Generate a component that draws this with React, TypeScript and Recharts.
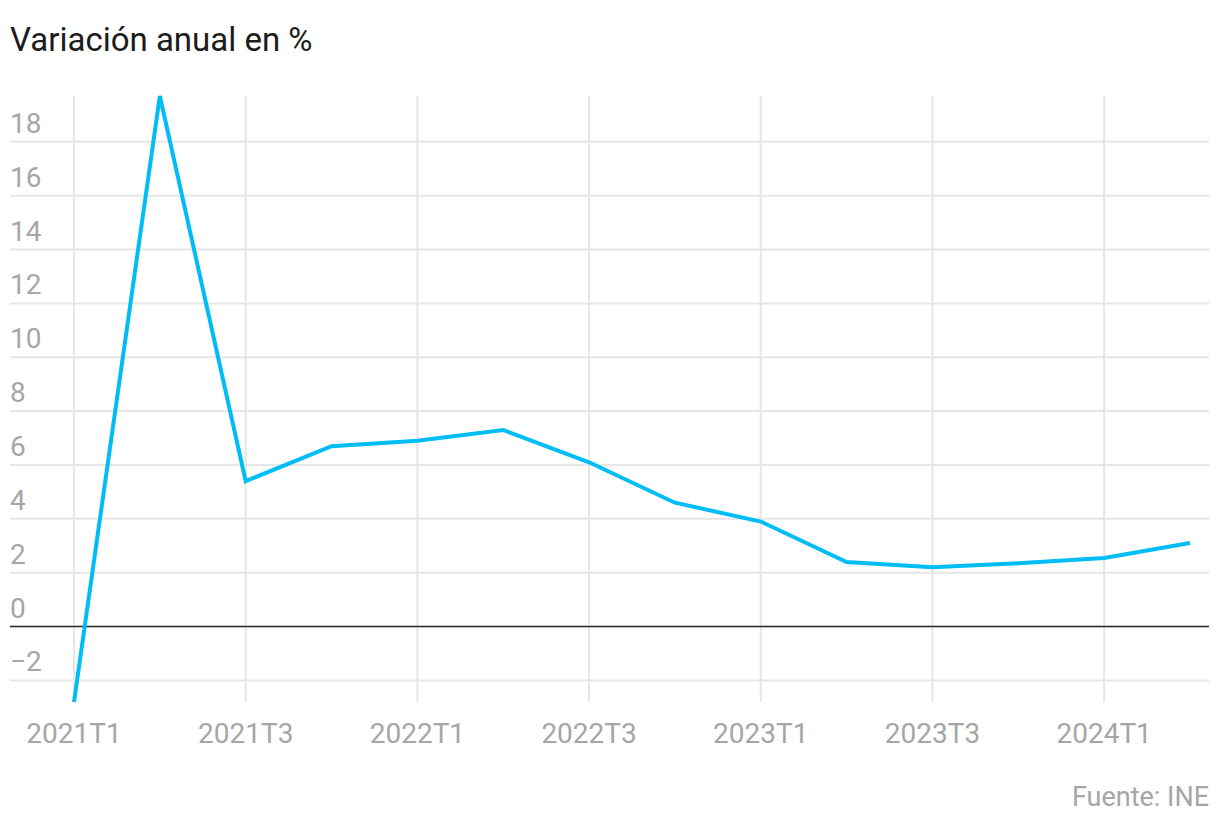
import { LineChart, Line, XAxis, YAxis, ReferenceLine } from "recharts";

const quarters = [
  "2021T1", "2021T2", "2021T3", "2021T4",
  "2022T1", "2022T2", "2022T3", "2022T4",
  "2023T1", "2023T2", "2023T3", "2023T4",
  "2024T1", "2024T2",
];
const variation = [-2.8, 19.7, 5.4, 6.7, 6.9, 7.3, 6.1, 4.6, 3.9, 2.4, 2.2, 2.35, 2.55, 3.1];
const yTicks = [-2, 0, 2, 4, 6, 8, 10, 12, 14, 16, 18];
const gridQuarters = quarters.filter((_, i) => i % 2 === 0);

const data = quarters.map((q, i) => ({ quarter: q, value: variation[i] }));

const W = 1220;
const H = 830;
const margin = { top: 96, right: 11, bottom: 68, left: 0 };
const axisLeft = 10;
const plotBottom = H - margin.bottom - 60;
const font = "Roboto, 'Noto Sans', sans-serif";
const tickColor = "#a6a6a6";
const gridColor = "#e6e6e6";

const YTick = ({ y, payload }: { y?: number; payload?: { value: number } }) => {
  const v = payload?.value ?? 0;
  return (
    <text x={axisLeft} y={(y ?? 0) - 9} fill={tickColor} fontSize={28} fontFamily={font} textAnchor="start">
      {v < 0 ? `\u2212${Math.abs(v)}` : v}
    </text>
  );
};

const XTick = ({ x, payload }: { x?: number; payload?: { value: string } }) => (
  <text x={x} y={plotBottom + 41} fill={tickColor} fontSize={28} fontFamily={font} textAnchor="middle">
    {payload?.value}
  </text>
);

export default function App() {
  return (
    <div style={{ position: "absolute", left: 0, top: 0, width: W, height: H, background: "#fff", fontFamily: font }}>
      <div style={{ position: "absolute", left: 10, top: 20, fontSize: 33, color: "#1c1c1c", lineHeight: "40px" }}>
        Variación anual en %
      </div>
      <LineChart width={W} height={H} data={data} margin={margin}>
        {yTicks.map((t) => (
          <ReferenceLine key={`h${t}`} y={t} stroke={gridColor} strokeWidth={2} />
        ))}
        {gridQuarters.map((q) => (
          <ReferenceLine key={q} x={q} stroke={gridColor} strokeWidth={2} />
        ))}
        <ReferenceLine y={0} stroke="#2b2b2b" strokeWidth={1.5} />
        <XAxis
          dataKey="quarter"
          interval={1}
          height={60}
          padding={{ left: 64, right: 19 }}
          axisLine={false}
          tickLine={false}
          tick={<XTick />}
        />
        <YAxis
          width={axisLeft}
          domain={["dataMin", "dataMax"]}
          ticks={yTicks}
          axisLine={false}
          tickLine={false}
          tick={<YTick />}
        />
        <Line
          type="linear"
          dataKey="value"
          stroke="#00bdf6"
          strokeWidth={4}
          dot={false}
          activeDot={false}
          isAnimationActive={false}
        />
      </LineChart>
      <div style={{ position: "absolute", right: 11, top: 780, fontSize: 27, color: tickColor, lineHeight: "34px" }}>
        Fuente: INE
      </div>
    </div>
  );
}
